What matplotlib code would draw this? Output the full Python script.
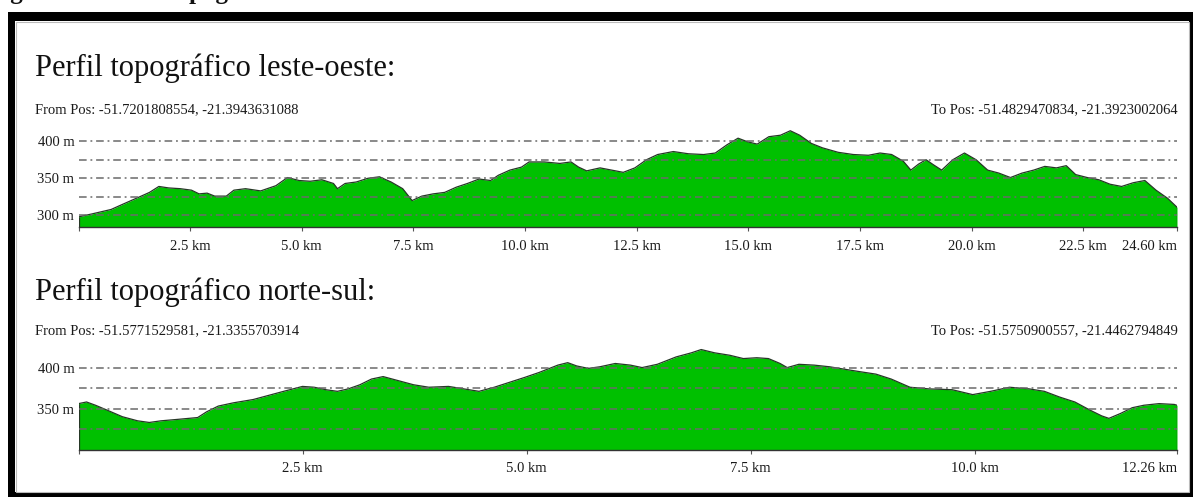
import matplotlib.pyplot as plt
from matplotlib.patches import Rectangle

# perfil leste-oeste (km, m)
km_lo = [0.00, 0.30, 0.73, 0.99, 1.33, 1.59, 1.80, 2.02, 2.28, 2.53, 2.70, 2.88, 3.05, 3.31, 3.48,
         3.74, 4.08, 4.42, 4.68, 4.94, 5.19, 5.45, 5.71, 5.80, 5.97, 6.22, 6.48, 6.74, 7.00, 7.26,
         7.47, 7.69, 7.94, 8.20, 8.46, 8.71, 8.97, 9.23, 9.40, 9.66, 9.92, 10.09, 10.43, 10.78, 11.03,
         11.20, 11.38, 11.68, 11.94, 12.20, 12.46, 12.72, 12.97, 13.32, 13.66, 14.00, 14.26, 14.52,
         14.77, 14.99, 15.20, 15.46, 15.72, 15.94, 16.15, 16.41, 16.66, 17.01, 17.35, 17.69, 17.95,
         18.21, 18.47, 18.64, 18.81, 18.98, 19.15, 19.33, 19.58, 19.84, 20.10, 20.36, 20.61, 20.87,
         21.13, 21.39, 21.64, 21.90, 22.12, 22.33, 22.59, 22.85, 23.10, 23.36, 23.62, 23.88, 24.13,
         24.39, 24.60]
elev_lo = [298, 302, 308, 315, 324, 331, 339, 337, 336, 334, 329, 330, 326, 326, 334,
           336, 333, 340, 351, 347, 346, 348, 343, 336, 343, 345, 350, 352, 345, 336,
           320, 326, 329, 331, 338, 343, 349, 347, 354, 361, 365, 372, 372, 370, 372,
           365, 360, 364, 361, 358, 364, 375, 382, 386, 383, 382, 384, 395,
           404, 399, 396, 406, 408, 414, 408, 397, 391, 385, 382, 381, 384,
           382, 373, 361, 369, 375, 368, 361, 375, 384, 375, 361, 357, 351,
           357, 361, 366, 364, 367, 355, 351, 348, 342, 339, 344, 347, 334,
           323, 311]

# perfil norte-sul (km, m)
km_ns = [0.00, 0.09, 0.19, 0.32, 0.49, 0.66, 0.79, 0.92, 1.13, 1.33, 1.43, 1.56, 1.73, 1.95, 2.12,
         2.29, 2.50, 2.63, 2.76, 2.89, 3.01, 3.14, 3.27, 3.40, 3.57, 3.74, 3.91, 4.13, 4.30, 4.47,
         4.64, 4.81, 4.98, 5.14, 5.35, 5.46, 5.56, 5.69, 5.82, 5.99, 6.16, 6.29, 6.46, 6.67, 6.84,
         6.95, 7.10, 7.27, 7.42, 7.57, 7.70, 7.83, 7.91, 8.04, 8.21, 8.38, 8.55, 8.72, 8.90, 9.07,
         9.28, 9.49, 9.75, 9.98, 10.18, 10.39, 10.61, 10.78, 10.95, 11.12, 11.29, 11.42, 11.50,
         11.63, 11.76, 11.89, 12.06, 12.23, 12.26]
elev_ns = [356, 358, 354, 348, 340, 335, 333, 335, 337, 339, 346, 353, 357, 361, 366,
           371, 377, 376, 373, 371, 374, 379, 386, 389, 384, 379, 376, 377, 374, 371,
           376, 382, 388, 394, 403, 406, 402, 399, 401, 405, 403, 400, 404, 413, 418,
           422, 418, 415, 411, 412, 411, 405, 400, 404, 403, 401, 398, 395, 392, 386,
           376, 374, 373, 367, 371, 376, 374, 371, 364, 358, 348, 341, 338,
           344, 351, 354, 356, 355, 354]

ticks_lo = [0, 2.5, 5.0, 7.5, 10.0, 12.5, 15.0, 17.5, 20.0, 22.5, 24.60]
labels_lo = ['', '2.5 km', '5.0 km', '7.5 km', '10.0 km', '12.5 km', '15.0 km',
             '17.5 km', '20.0 km', '22.5 km', '24.60 km']
ticks_ns = [0, 2.5, 5.0, 7.5, 10.0, 12.26]
labels_ns = ['', '2.5 km', '5.0 km', '7.5 km', '10.0 km', '12.26 km']

W, H = 1193, 497
plt.rcParams['font.family'] = ['Liberation Serif', 'DejaVu Serif']
fig = plt.figure(figsize=(W / 100, H / 100), dpi=100)


def fx(x):
    return x / W


def fy(y):
    return 1 - y / H


def perfil(top, bottom, km, elev, ylo, yhi, yticks, grid, xticks, xlabels):
    ax = fig.add_axes([fx(78.5), fy(bottom), (1177 - 78.5) / W, (bottom - top) / H])
    ax.fill_between(km, elev, ylo, color='#00c000', lw=0, zorder=1)
    ax.plot(km, elev, color='#263826', lw=0.9, zorder=2)
    ax.vlines([km[0], km[-1]], ylo, [elev[0], elev[-1]], color='#263826', lw=0.9, zorder=2)
    for g in grid:
        ax.axhline(g, color='#6a6a6a', lw=1.1, ls=(0, (5, 2.5, 1.2, 2.5)), zorder=3)
    ax.set_xlim(km[0], km[-1])
    ax.set_ylim(ylo, yhi)
    ax.set_yticks(yticks)
    ax.set_yticklabels(['%d m' % v for v in yticks])
    ax.set_xticks(xticks)
    ax.set_xticklabels(xlabels)
    ax.get_xticklabels()[-1].set_ha('right')
    ax.tick_params(axis='y', length=0, pad=3, labelsize=10.5, labelcolor='#1a1a1a')
    ax.tick_params(axis='x', length=3, width=0.8, color='#555555', pad=6,
                   labelsize=10.5, labelcolor='#1a1a1a')
    for s in ['top', 'right', 'left']:
        ax.spines[s].set_visible(False)
    ax.spines['bottom'].set_color('#333333')
    ax.spines['bottom'].set_linewidth(1.0)
    ax.patch.set_alpha(0)
    return ax


perfil(126.3, 227.3, km_lo, elev_lo, 284, 420, [300, 350, 400],
       [300, 325, 350, 375, 400], ticks_lo, labels_lo)
perfil(343, 449.5, km_ns, elev_ns, 300, 430, [350, 400],
       [325, 350, 375, 400], ticks_ns, labels_ns)

# titulos e coordenadas
fig.text(fx(35), fy(76), 'Perfil topográfico leste-oeste:', fontsize=22, va='baseline', color='#111111')
fig.text(fx(35), fy(113), 'From Pos: -51.7201808554, -21.3943631088', fontsize=10.5,
         va='baseline', color='#1a1a1a')
fig.text(fx(1178), fy(113), 'To Pos: -51.4829470834, -21.3923002064', fontsize=10.5,
         va='baseline', ha='right', color='#1a1a1a')
fig.text(fx(35), fy(300), 'Perfil topográfico norte-sul:', fontsize=22, va='baseline', color='#111111')
fig.text(fx(35), fy(334), 'From Pos: -51.5771529581, -21.3355703914', fontsize=10.5,
         va='baseline', color='#1a1a1a')
fig.text(fx(1178), fy(334), 'To Pos: -51.5750900557, -21.4462794849', fontsize=10.5,
         va='baseline', ha='right', color='#1a1a1a')

# legenda da figura, cortada no topo como no original
fig.text(fx(-12), fy(-1.5), 'Figura 2 - Perfis topográficos leste-oeste e norte-sul da área de estudo',
         fontsize=18, fontweight='bold', va='baseline', color='#111111')

# moldura
for x, y, w, h in [(8, 12, 1185, 9), (8, 12, 7, 485), (8, 492, 1185, 5), (1189, 12, 4, 485)]:
    fig.add_artist(Rectangle((fx(x), fy(y + h)), w / W, h / H, transform=fig.transFigure,
                             facecolor='black', edgecolor='none'))
fig.add_artist(Rectangle((fx(15.5), fy(491.5)), 1173 / W, 470 / H, transform=fig.transFigure,
                         facecolor='none', edgecolor='#bbbbbb', lw=0.8))

fig.savefig('out.png', dpi=100)
